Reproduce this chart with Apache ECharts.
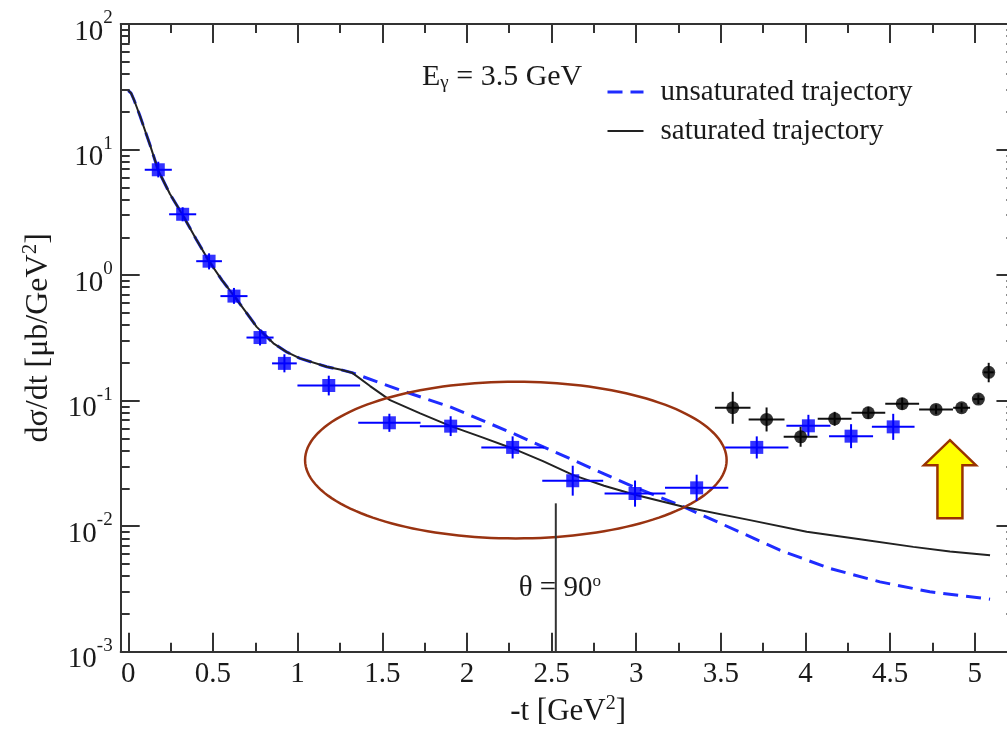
<!DOCTYPE html>
<html>
<head>
<meta charset="utf-8">
<script src="https://cdn.jsdelivr.net/npm/echarts@6/dist/echarts.min.js"></script>
<style>
  html, body { margin: 0; padding: 0; background: #ffffff; }
  #chart { width: 1007px; height: 732px; }
</style>
</head>
<body>
<div id="chart"></div>
<script>
// Differential cross section dσ/dt versus -t at E_gamma = 3.5 GeV

// Regge curves: common part, then the two trajectory variants
const commonT = [0, 0.016, 0.034, 0.069, 0.128, 0.177, 0.246, 0.321, 0.400, 0.477, 0.553, 0.627, 0.695, 0.758, 0.857, 0.937, 1.014, 1.172, 1.250, 1.321];
const commonY = [29.5, 28.2, 24.8, 18.5, 10.9, 6.8, 4.42, 3.01, 1.94, 1.29, 0.912, 0.676, 0.507, 0.387, 0.286, 0.243, 0.217, 0.186, 0.177, 0.167];

const unsatTailT = [1.605, 1.900, 2.274, 2.589, 2.983, 3.278, 3.653, 3.849, 4.144, 4.440, 4.734, 5.090];
const unsatTailY = [0.1213, 0.0893, 0.0547, 0.0354, 0.0206, 0.0143, 0.00848, 0.00644, 0.0046, 0.0036, 0.0030, 0.00262];

const satTailT = [1.428, 1.546, 1.724, 1.904, 2.087, 2.270, 2.449, 2.628, 2.810, 2.993, 3.278, 3.672, 4.007, 4.322, 4.637, 4.853, 5.090];
const satTailY = [0.1306, 0.1009, 0.0791, 0.0626, 0.0512, 0.0416, 0.0330, 0.0255, 0.0210, 0.0178, 0.01426, 0.01117, 0.00901, 0.00785, 0.00684, 0.00627, 0.00587];

// Blue data set: -t, dσ/dt, half bin width, lower and upper error limits
const blueT    = [0.177, 0.321, 0.477, 0.624, 0.778, 0.922, 1.184, 1.542, 1.904, 2.270, 2.625, 2.993, 3.357, 3.712, 4.017, 4.269, 4.518];
const blueY    = [6.9, 3.05, 1.29, 0.68, 0.318, 0.198, 0.132, 0.0666, 0.0626, 0.0424, 0.0230, 0.0182, 0.0202, 0.0424, 0.063, 0.0521, 0.0618];
const blueTErr = [0.08, 0.08, 0.076, 0.08, 0.08, 0.073, 0.185, 0.184, 0.182, 0.185, 0.18, 0.18, 0.187, 0.187, 0.13, 0.13, 0.126];
const blueLo   = [6.0, 2.68, 1.11, 0.59, 0.275, 0.168, 0.11, 0.0564, 0.0522, 0.0346, 0.0175, 0.0143, 0.0159, 0.0346, 0.0515, 0.0418, 0.0487];
const blueHi   = [8.0, 3.47, 1.49, 0.79, 0.368, 0.234, 0.158, 0.0786, 0.0751, 0.0519, 0.0303, 0.0231, 0.0257, 0.0519, 0.0771, 0.0649, 0.0785];

// Black data set
const blackT    = [3.570, 3.770, 3.971, 4.172, 4.371, 4.571, 4.771, 4.922, 5.021, 5.082];
const blackY    = [0.0877, 0.0708, 0.0515, 0.0716, 0.0800, 0.0944, 0.0851, 0.0877, 0.1028, 0.168];
const blackTErr = [0.105, 0.106, 0.1, 0.1, 0.1, 0.1, 0.1, 0.05, 0.03, 0.03];
const blackLo   = [0.0654, 0.0568, 0.0429, 0.063, 0.0717, 0.0846, 0.078, 0.0805, 0.094, 0.14];
const blackHi   = [0.1175, 0.0882, 0.0618, 0.0814, 0.0893, 0.1053, 0.093, 0.0956, 0.112, 0.2];

// Axis ticks
const xMajor = [0, 0.5, 1, 1.5, 2, 2.5, 3, 3.5, 4, 4.5, 5];
const xMinor = [0.25, 0.75, 1.25, 1.75, 2.25, 2.75, 3.25, 3.75, 4.25, 4.75];
const yMajor = [0.001, 0.01, 0.1, 1, 10, 100];
const yMinor = [0.002, 0.003, 0.004, 0.005, 0.006, 0.007, 0.008, 0.009,
                0.02, 0.03, 0.04, 0.05, 0.06, 0.07, 0.08, 0.09,
                0.2, 0.3, 0.4, 0.5, 0.6, 0.7, 0.8, 0.9,
                2, 3, 4, 5, 6, 7, 8, 9,
                20, 30, 40, 50, 60, 70, 80, 90];

// Annotations
const thetaLine = [2.525, 0.001, 0.0152];      // -t, bottom, top
const thetaLabelY = 0.0032;
const ellipseCenter = [2.289, 0.0336];
const ellipseHalfT = 1.245;
const ellipseHalfDecades = 0.624;
const arrowTip = [4.853, 0.0484];

const XMIN = -0.045, XMAX = 5.24;
const FONT = '"Liberation Serif", "Times New Roman", serif';
const TEXT = '#1a1a1a';
const AXIS = '#333333';
const BLUE = '#0000ff';
const DASH_BLUE = '#1f2cff';
const CURVE = '#222222';
const BROWN = '#993311';
const DASH = [15, 8];

const zip = (a, b) => a.map((v, i) => [v, b[i]]);
const unsatData = zip(commonT.concat(unsatTailT), commonY.concat(unsatTailY));
const satData = zip(commonT.concat(satTailT), commonY.concat(satTailY));
const blueErrData = blueT.map((t, i) => [t, blueY[i], blueTErr[i], blueLo[i], blueHi[i]]);
const blackErrData = blackT.map((t, i) => [t, blackY[i], blackTErr[i], blackLo[i], blackHi[i]]);

function xAxisDef(position, ticks, len, withLine, withLabels) {
  return {
    type: 'value', position: position, min: XMIN, max: XMAX, gridIndex: 0,
    axisLine: { show: withLine, onZero: false, lineStyle: { color: AXIS, width: 2 } },
    axisTick: { show: true, inside: true, length: len, customValues: ticks, lineStyle: { color: AXIS, width: 2 } },
    axisLabel: withLabels ? {
      show: true, customValues: ticks, margin: 8, color: TEXT, fontFamily: FONT, fontSize: 29
    } : { show: false },
    splitLine: { show: false },
    minorTick: { show: false }
  };
}

function yAxisDef(position, ticks, len, withLine, withLabels) {
  return {
    type: 'log', logBase: 10, position: position, min: 0.001, max: 100, gridIndex: 0,
    axisLine: { show: withLine, onZero: false, lineStyle: { color: AXIS, width: 2 } },
    axisTick: { show: true, inside: true, length: len, customValues: ticks, lineStyle: { color: AXIS, width: 2 } },
    axisLabel: withLabels ? {
      show: true, customValues: ticks, margin: 8, padding: [7, 0, 0, 0],
      formatter: function (v) { return '{b|10}{s|' + Math.round(Math.log10(v)) + '}'; },
      rich: {
        b: { fontFamily: FONT, fontSize: 29, lineHeight: 38, color: TEXT, verticalAlign: 'bottom' },
        s: { fontFamily: FONT, fontSize: 19, lineHeight: 19, color: TEXT, verticalAlign: 'top' }
      }
    } : { show: false },
    splitLine: { show: false },
    minorTick: { show: false }
  };
}

function nameRich(size) {
  return {
    n: { fontFamily: FONT, fontSize: size, lineHeight: size + 3, color: TEXT, verticalAlign: 'bottom' },
    s: { fontFamily: FONT, fontSize: Math.round(size * 0.65), lineHeight: Math.round(size * 0.65), color: TEXT, verticalAlign: 'top' }
  };
}

const xAxes = [
  xAxisDef('bottom', xMajor, 19, true, true),
  xAxisDef('bottom', xMinor, 9, false, false),
  xAxisDef('top', xMajor, 19, true, false),
  xAxisDef('top', xMinor, 9, false, false)
];
xAxes[0].name = '{n|-t [GeV}{s|2}{n|]}';
xAxes[0].nameLocation = 'middle';
xAxes[0].nameGap = 39;
xAxes[0].nameTextStyle = { rich: nameRich(31) };

const yAxes = [
  yAxisDef('left', yMajor, 19, true, true),
  yAxisDef('left', yMinor, 9, false, false),
  yAxisDef('right', yMajor, 19, true, false),
  yAxisDef('right', yMinor, 9, false, false)
];
yAxes[0].name = '{n|dσ/dt [μb/GeV}{s|2}{n|]}';
yAxes[0].nameLocation = 'middle';
yAxes[0].nameRotate = 90;
yAxes[0].nameGap = 66;
yAxes[0].nameTextStyle = { rich: nameRich(32) };

function errorBars(color) {
  return function (params, api) {
    const t = api.value(0), y = api.value(1), dt = api.value(2);
    const l = api.coord([t - dt, y]);
    const r = api.coord([t + dt, y]);
    const lo = api.coord([t, api.value(3)]);
    const hi = api.coord([t, api.value(4)]);
    const style = { stroke: color, lineWidth: 2, fill: null };
    return {
      type: 'group',
      children: [
        { type: 'line', shape: { x1: l[0], y1: l[1], x2: r[0], y2: r[1] }, style: style },
        { type: 'line', shape: { x1: lo[0], y1: lo[1], x2: hi[0], y2: hi[1] }, style: style }
      ]
    };
  };
}

function renderEllipse(params, api) {
  const pts = [];
  const n = 160;
  for (let k = 0; k <= n; k++) {
    const a = 2 * Math.PI * k / n;
    const t = ellipseCenter[0] + ellipseHalfT * Math.cos(a);
    const y = ellipseCenter[1] * Math.pow(10, ellipseHalfDecades * Math.sin(a));
    pts.push(api.coord([t, y]));
  }
  return { type: 'polygon', shape: { points: pts }, style: { fill: null, stroke: BROWN, lineWidth: 2.5 } };
}

function renderTheta(params, api) {
  const b = api.coord([thetaLine[0], thetaLine[1]]);
  const u = api.coord([thetaLine[0], thetaLine[2]]);
  const c = api.coord([thetaLine[0], thetaLabelY]);
  return {
    type: 'group',
    children: [
      { type: 'line', shape: { x1: b[0], y1: b[1], x2: u[0], y2: u[1] }, style: { stroke: AXIS, lineWidth: 2 } },
      {
        type: 'text', x: c[0] + 4, y: c[1],
        style: {
          text: '{a|θ = 90}{s|o}', align: 'center', verticalAlign: 'middle',
          rich: {
            a: { fontFamily: FONT, fontSize: 29, lineHeight: 30, fill: TEXT, verticalAlign: 'bottom' },
            s: { fontFamily: FONT, fontSize: 17, lineHeight: 17, fill: TEXT, verticalAlign: 'top' }
          }
        }
      }
    ]
  };
}

function renderArrow(params, api) {
  const p = api.coord(arrowTip);
  const x = p[0], y = p[1];
  return {
    type: 'polygon',
    shape: { points: [[x, y], [x + 26, y + 25], [x + 12.5, y + 25], [x + 12.5, y + 78], [x - 12.5, y + 78], [x - 12.5, y + 25], [x - 26, y + 25]] },
    style: { fill: '#ffff00', stroke: '#993300', lineWidth: 2.5 }
  };
}

const chart = echarts.init(document.getElementById('chart'), null, { renderer: 'canvas' });
chart.setOption({
  backgroundColor: '#ffffff',
  animation: false,
  grid: {
    left: 120.7, top: 24, width: (XMAX - XMIN) * 169.3, height: 627.7,
    containLabel: false, outerBoundsMode: 'none'
  },
  title: {
    text: '{e|E}{g|γ}{n| = 3.5 GeV}',
    left: 422, top: 62, padding: 0,
    textStyle: {
      rich: {
        e: { fontFamily: FONT, fontSize: 30, fontWeight: 'normal', lineHeight: 31, color: TEXT, verticalAlign: 'top' },
        g: { fontFamily: FONT, fontSize: 19, fontWeight: 'normal', lineHeight: 19, color: TEXT, verticalAlign: 'bottom' },
        n: { fontFamily: FONT, fontSize: 30, fontWeight: 'normal', lineHeight: 31, color: TEXT, verticalAlign: 'top' }
      }
    }
  },
  legend: {
    data: [
      { name: 'unsaturated trajectory', itemStyle: { opacity: 0 }, lineStyle: { color: DASH_BLUE, width: 3, type: DASH } },
      { name: 'saturated trajectory', itemStyle: { opacity: 0 }, lineStyle: { color: CURVE, width: 2, type: 'solid' } }
    ],
    orient: 'vertical', left: 606, top: 77, padding: 0,
    itemWidth: 36, itemHeight: 14, itemGap: 9,
    selectedMode: false,
    textStyle: { fontFamily: FONT, fontSize: 29, lineHeight: 30, color: TEXT, padding: [0, 0, 0, 12] }
  },
  xAxis: xAxes,
  yAxis: yAxes,
  series: [
    {
      name: 'unsaturated trajectory', type: 'line', data: unsatData,
      xAxisIndex: 0, yAxisIndex: 0, symbol: 'none', z: 2,
      lineStyle: { color: DASH_BLUE, width: 3, type: DASH },
      itemStyle: { color: DASH_BLUE }
    },
    {
      name: 'saturated trajectory', type: 'line', data: satData,
      xAxisIndex: 0, yAxisIndex: 0, symbol: 'none', z: 3,
      lineStyle: { color: CURVE, width: 2 },
      itemStyle: { color: CURVE }
    },
    {
      name: 'ellipse', type: 'custom', renderItem: renderEllipse, data: [ellipseCenter],
      xAxisIndex: 0, yAxisIndex: 0, z: 4, silent: true
    },
    {
      name: 'theta', type: 'custom', renderItem: renderTheta, data: [[thetaLine[0], thetaLine[2]]],
      xAxisIndex: 0, yAxisIndex: 0, z: 4, silent: true
    },
    {
      name: 'blue errors', type: 'custom', renderItem: errorBars(BLUE), data: blueErrData,
      encode: { x: 0, y: 1 }, xAxisIndex: 0, yAxisIndex: 0, z: 5
    },
    {
      name: 'blue points', type: 'scatter', data: zip(blueT, blueY), symbol: 'rect', symbolSize: 13,
      xAxisIndex: 0, yAxisIndex: 0, itemStyle: { color: BLUE }, z: 6
    },
    {
      name: 'black errors', type: 'custom', renderItem: errorBars('#111111'), data: blackErrData,
      encode: { x: 0, y: 1 }, xAxisIndex: 0, yAxisIndex: 0, z: 5
    },
    {
      name: 'black points', type: 'scatter', data: zip(blackT, blackY), symbol: 'circle', symbolSize: 13,
      xAxisIndex: 0, yAxisIndex: 0, itemStyle: { color: '#000000' }, z: 6
    },
    {
      name: 'arrow', type: 'custom', renderItem: renderArrow, data: [arrowTip],
      xAxisIndex: 0, yAxisIndex: 0, z: 7, silent: true
    }
  ]
});
</script>
</body>
</html>
